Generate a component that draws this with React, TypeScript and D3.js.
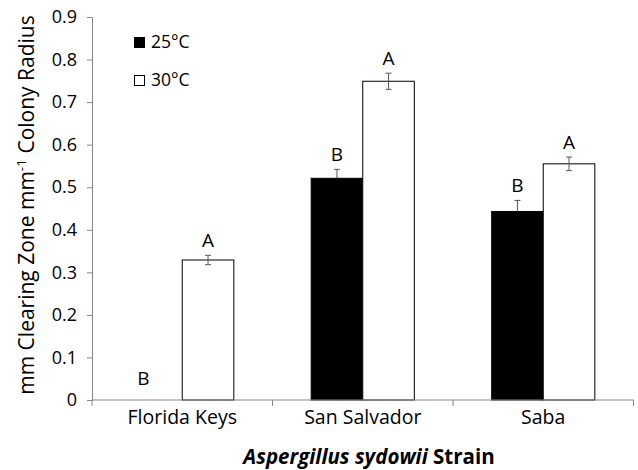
import React, { useRef, useEffect } from "react"
import * as d3 from "d3"

const strains = ["Florida Keys", "San Salvador", "Saba"]
const temps = ["25°C", "30°C"]
const mean25 = [0, 0.521, 0.443]
const mean30 = [0.329, 0.749, 0.555]
const err25 = [0, 0.021, 0.026]
const err30 = [0.011, 0.019, 0.016]
const letters25 = ["B", "B", "B"]
const letters30 = ["A", "A", "A"]
const yTicks = [0, 0.1, 0.2, 0.3, 0.4, 0.5, 0.6, 0.7, 0.8, 0.9]

const font = "'Open Sans', 'DejaVu Sans', sans-serif"

const App = () => {
  const ref = useRef(null)
  const width = 638
  const height = 470

  useEffect(() => {
    document.body.style.margin = "0"
    if (!ref.current) return
    const svg = d3.select(ref.current)
    svg.selectAll("*").remove()

    const margin = { top: 17, right: 4.5, bottom: 70, left: 92 }
    const x = d3
      .scaleBand()
      .domain(strains)
      .range([margin.left, width - margin.right])
    const xt = d3
      .scaleBand()
      .domain(temps)
      .range([0, x.bandwidth()])
      .paddingOuter(0.75)
    const y = d3
      .scaleLinear()
      .domain([0, 0.9])
      .range([height - margin.bottom, margin.top])

    const rows = strains.flatMap((s, i) => [
      { strain: s, temp: temps[0], v: mean25[i], e: err25[i], l: letters25[i] },
      { strain: s, temp: temps[1], v: mean30[i], e: err30[i], l: letters30[i] }
    ])
    const axisColor = "#868686"
    const dark = d => d.temp === temps[0]

    // y axis
    const gy = svg.append("g").attr("transform", `translate(${margin.left},0)`)
    gy.call(
      d3
        .axisLeft(y)
        .tickValues(yTicks)
        .tickFormat(d => (d === 0 ? "0" : d3.format(".1f")(d)))
        .tickSize(5)
        .tickPadding(10)
    )
    gy.select(".domain").attr("stroke", axisColor)
    gy.selectAll(".tick line").attr("stroke", axisColor)
    gy.selectAll(".tick text")
      .attr("font-family", font)
      .attr("font-size", 18)
      .attr("fill", "#000")

    // bars
    svg
      .append("g")
      .selectAll("rect")
      .data(rows.filter(d => d.v > 0))
      .enter()
      .append("rect")
      .attr("x", d => x(d.strain) + xt(d.temp))
      .attr("y", d => y(d.v))
      .attr("width", xt.bandwidth())
      .attr("height", d => y(0) - y(d.v))
      .attr("fill", d => (dark(d) ? "#000" : "#fff"))
      .attr("stroke", "#000")
      .attr("stroke-width", 1)

    // error bars (lower half hidden inside the black bars)
    const eb = svg
      .append("g")
      .attr("stroke", "#555")
      .attr("stroke-width", 1)
      .selectAll("g")
      .data(rows.filter(d => d.e > 0))
      .enter()
      .append("g")
      .attr("transform", d => `translate(${x(d.strain) + xt(d.temp) + xt.bandwidth() / 2},0)`)
    eb.append("line")
      .attr("y1", d => y(dark(d) ? d.v : d.v - d.e))
      .attr("y2", d => y(d.v + d.e))
    eb.append("line").attr("x1", -3).attr("x2", 3).attr("y1", d => y(d.v + d.e)).attr("y2", d => y(d.v + d.e))
    eb.filter(d => !dark(d))
      .append("line")
      .attr("x1", -3)
      .attr("x2", 3)
      .attr("y1", d => y(d.v - d.e))
      .attr("y2", d => y(d.v - d.e))

    // significance letters
    svg
      .append("g")
      .selectAll("text")
      .data(rows)
      .enter()
      .append("text")
      .attr("x", d => x(d.strain) + xt(d.temp) + xt.bandwidth() / 2 - (d.v === 0 ? 13 : 0))
      .attr("y", d => Math.min(y(d.v + d.e) - 8, y(0) - 15))
      .attr("text-anchor", "middle")
      .attr("font-family", font)
      .attr("font-size", 19)
      .text(d => d.l)

    // x axis
    const gx = svg.append("g").attr("transform", `translate(0,${y(0)})`)
    gx.append("line")
      .attr("x1", margin.left)
      .attr("x2", width - margin.right)
      .attr("stroke", axisColor)
    const bounds = strains.map(s => x(s)).concat([x(strains[2]) + x.bandwidth()])
    gx.selectAll("line.tk")
      .data(bounds)
      .enter()
      .append("line")
      .attr("class", "tk")
      .attr("x1", d => d)
      .attr("x2", d => d)
      .attr("y2", 6)
      .attr("stroke", axisColor)
    gx.selectAll("text")
      .data(strains)
      .enter()
      .append("text")
      .attr("x", d => x(d) + x.bandwidth() / 2)
      .attr("y", 24)
      .attr("text-anchor", "middle")
      .attr("font-family", font)
      .attr("font-size", 19.5)
      .text(d => d)

    // axis titles
    const xTitle = svg
      .append("text")
      .attr("x", 369)
      .attr("y", 463.5)
      .attr("text-anchor", "middle")
      .attr("font-family", font)
      .attr("font-size", 20.5)
      .attr("font-weight", "bold")
    xTitle.append("tspan").attr("font-style", "italic").text("Aspergillus sydowii")
    xTitle.append("tspan").text(" Strain")

    const yTitle = svg
      .append("text")
      .attr("transform", `translate(33.5,205) rotate(-90)`)
      .attr("text-anchor", "middle")
      .attr("font-family", font)
      .attr("font-size", 21)
    yTitle.append("tspan").text("mm Clearing Zone mm")
    yTitle.append("tspan").attr("font-size", 13.5).attr("dy", -8).text("-1")
    yTitle.append("tspan").attr("dy", 8).text(" Colony Radius")

    // legend
    const lg = svg
      .append("g")
      .selectAll("g")
      .data(temps)
      .enter()
      .append("g")
      .attr("transform", (d, i) => `translate(134,${37 + i * 38})`)
    lg.append("rect")
      .attr("x", 0.5)
      .attr("y", 0.5)
      .attr("width", 10)
      .attr("height", 10)
      .attr("fill", (d, i) => (i === 0 ? "#000" : "#fff"))
      .attr("stroke", "#000")
    lg.append("text")
      .attr("x", 17)
      .attr("y", 11)
      .attr("font-family", font)
      .attr("font-size", 17.5)
      .text(d => d)
  }, [ref])

  return <svg ref={ref} width={width} height={height} style={{ display: "block", background: "#fff" }} />
}

export default App
